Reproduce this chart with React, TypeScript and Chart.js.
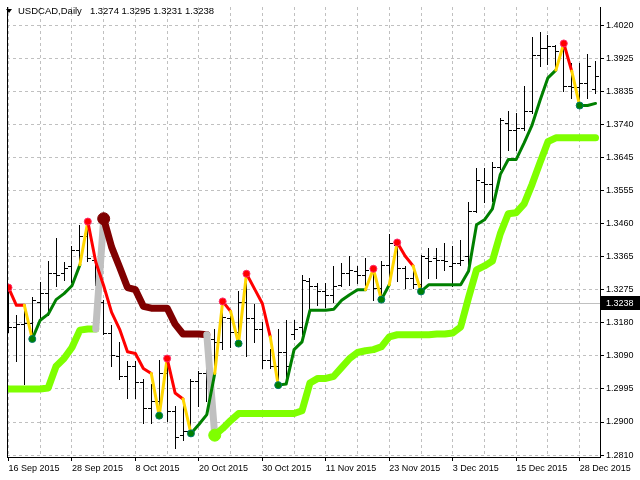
import React, { useEffect, useRef } from 'react';
import { Chart, registerables } from 'chart.js';

Chart.register(...registerables);

// ---------------- data ----------------
const symbolTitle = 'USDCAD,Daily';
const quoteOHLC = ['1.3274', '1.3295', '1.3231', '1.3238'];
const lastPrice = 1.3238;

const dateLabels = ['16 Sep 2015', '28 Sep 2015', '8 Oct 2015', '20 Oct 2015', '30 Oct 2015', '11 Nov 2015', '23 Nov 2015', '3 Dec 2015', '15 Dec 2015', '28 Dec 2015'];
const labelEvery = 8;
const gridEvery = 4;
const yTickLabels = ['1.2810', '1.2900', '1.2995', '1.3090', '1.3180', '1.3275', '1.3365', '1.3460', '1.3555', '1.3645', '1.3740', '1.3835', '1.3925', '1.4020'];

const opens = [
  1.3246, 1.3171, 1.3179, 1.3182, 1.3240, 1.3268, 1.3323, 1.3323, 1.3343, 1.3387,
  1.3426, 1.3360, 1.3240, 1.3154, 1.3088, 1.3032, 1.3060, 1.3015, 1.2943, 1.2963,
  1.3040, 1.2935, 1.2866, 1.2879, 1.3018, 1.3040, 1.3137, 1.3129, 1.3196, 1.3157,
  1.3240, 1.3196, 1.3165, 1.3079, 1.3060, 1.3101, 1.3151, 1.3171, 1.3301, 1.3287,
  1.3273, 1.3260, 1.3290, 1.3323, 1.3329, 1.3318, 1.3332, 1.3282, 1.3346, 1.3401,
  1.3337, 1.3310, 1.3293, 1.3365, 1.3365, 1.3360, 1.3343, 1.3351, 1.3371, 1.3498,
  1.3579, 1.3573, 1.3623, 1.3745, 1.3726, 1.3731, 1.3781, 1.3937, 1.3956, 1.3962,
  1.3948, 1.3851, 1.3848, 1.3859, 1.3842,
];
const highs = [
  1.3282, 1.3204, 1.3232, 1.3254, 1.3298, 1.3357, 1.3421, 1.3354, 1.3398, 1.3457,
  1.3468, 1.3371, 1.3248, 1.3176, 1.3129, 1.3074, 1.3074, 1.3024, 1.3010, 1.3079,
  1.3082, 1.2949, 1.2963, 1.3024, 1.3046, 1.3151, 1.3165, 1.3243, 1.3201, 1.3273,
  1.3321, 1.3235, 1.3185, 1.3110, 1.3165, 1.3190, 1.3190, 1.3318, 1.3310, 1.3296,
  1.3296, 1.3343, 1.3351, 1.3371, 1.3343, 1.3365, 1.3335, 1.3357, 1.3434, 1.3409,
  1.3343, 1.3337, 1.3373, 1.3393, 1.3393, 1.3407, 1.3398, 1.3415, 1.3523, 1.3620,
  1.3620, 1.3637, 1.3759, 1.3781, 1.3773, 1.3851, 1.3987, 1.4003, 1.3995, 1.3967,
  1.3970, 1.3915, 1.3915, 1.3940, 1.3920,
];
const lows = [
  1.3157, 1.3074, 1.3010, 1.3137, 1.3190, 1.3204, 1.3287, 1.3304, 1.3298, 1.3351,
  1.3357, 1.3290, 1.3151, 1.3060, 1.3024, 1.2971, 1.2971, 1.2899, 1.2899, 1.2921,
  1.2907, 1.2829, 1.2852, 1.2871, 1.2949, 1.2963, 1.3051, 1.3110, 1.3115, 1.3124,
  1.3088, 1.3129, 1.3054, 1.3054, 1.3007, 1.3018, 1.3137, 1.3151, 1.3221, 1.3232,
  1.3226, 1.3240, 1.3287, 1.3290, 1.3296, 1.3290, 1.3246, 1.3248, 1.3301, 1.3301,
  1.3282, 1.3282, 1.3271, 1.3310, 1.3310, 1.3332, 1.3287, 1.3346, 1.3332, 1.3495,
  1.3523, 1.3526, 1.3615, 1.3670, 1.3670, 1.3726, 1.3773, 1.3906, 1.3912, 1.3892,
  1.3837, 1.3817, 1.3795, 1.3815, 1.3829,
];
const closes = [
  1.3171, 1.3179, 1.3182, 1.3248, 1.3268, 1.3323, 1.3318, 1.3337, 1.3387, 1.3426,
  1.3365, 1.3307, 1.3154, 1.3093, 1.3032, 1.3060, 1.3015, 1.2943, 1.2963, 1.3040,
  1.2935, 1.2860, 1.2879, 1.3018, 1.3040, 1.3137, 1.3129, 1.3199, 1.3157, 1.3240,
  1.3196, 1.3165, 1.3079, 1.3060, 1.3101, 1.3060, 1.3165, 1.3304, 1.3287, 1.3273,
  1.3260, 1.3287, 1.3323, 1.3332, 1.3318, 1.3332, 1.3282, 1.3346, 1.3407, 1.3337,
  1.3310, 1.3293, 1.3371, 1.3357, 1.3360, 1.3357, 1.3351, 1.3360, 1.3498, 1.3584,
  1.3573, 1.3623, 1.3754, 1.3726, 1.3731, 1.3781, 1.3937, 1.3956, 1.3962, 1.3948,
  1.3851, 1.3848, 1.3859, 1.3906, 1.3878,
];

// fast trailing line (thin) and its per-segment state: d = down, t = turning, u = up
const fastLine = [
  1.3282, 1.3232, 1.3232, 1.3137, 1.3190, 1.3207, 1.3248, 1.3265, 1.3287, 1.3346,
  1.3468, 1.3354, 1.3287, 1.3212, 1.3165, 1.3101, 1.3096, 1.3054, 1.3040, 1.2921,
  1.3082, 1.2985, 1.2968, 1.2871, 1.2896, 1.2924, 1.3040, 1.3243, 1.3215, 1.3124,
  1.3321, 1.3279, 1.3237, 1.3143, 1.3007, 1.3010, 1.3107, 1.3129, 1.3218, 1.3218,
  1.3218, 1.3221, 1.3246, 1.3262, 1.3276, 1.3276, 1.3335, 1.3248, 1.3290, 1.3409,
  1.3371, 1.3343, 1.3271, 1.3290, 1.3290, 1.3290, 1.3290, 1.3290, 1.3329, 1.3459,
  1.3473, 1.3504, 1.3601, 1.3643, 1.3643, 1.3690, 1.3740, 1.3809, 1.3873, 1.3895,
  1.3970, 1.3892, 1.3795, 1.3795, 1.3801,
];
const fastState = [
  'd', 'd', 't', 'u', 'u', 'u', 'u', 'u', 'u', 't',
  'd', 'd', 'd', 'd', 'd', 'd', 'd', 'd', 't', 't',
  'd', 'd', 't', 'u', 'u', 'u', 't', 'd', 't', 't',
  'd', 'd', 'd', 't', 'u', 'u', 'u', 'u', 'u', 'u',
  'u', 'u', 'u', 'u', 'u', 't', 't', 'u', 't', 'd',
  'd', 't', 'u', 'u', 'u', 'u', 'u', 'u', 'u', 'u',
  'u', 'u', 'u', 'u', 'u', 'u', 'u', 'u', 'u', 't',
  'd', 't', 'u', 'u',
];
const fastPeaks = [0, 10, 20, 27, 30, 46, 49, 70];
const fastTroughs = [3, 19, 23, 29, 34, 47, 52, 72];

// slow trailing line (thick) and its per-segment state
const slowLine = [
  1.2996, 1.2996, 1.2996, 1.2996, 1.2996, 1.2999, 1.3060, 1.3082, 1.3113, 1.3162,
  1.3165, 1.3165, 1.3476, 1.3396, 1.3340, 1.3282, 1.3276, 1.3229, 1.3224, 1.3224,
  1.3224, 1.3179, 1.3151, 1.3151, 1.3151, 1.3149, 1.2866, 1.2885, 1.2907, 1.2927,
  1.2927, 1.2927, 1.2927, 1.2927, 1.2927, 1.2927, 1.2927, 1.2935, 1.3013, 1.3026,
  1.3026, 1.3032, 1.3057, 1.3082, 1.3099, 1.3104, 1.3107, 1.3115, 1.3143, 1.3149,
  1.3149, 1.3149, 1.3149, 1.3149, 1.3151, 1.3151, 1.3154, 1.3171, 1.3254, 1.3332,
  1.3343, 1.3357, 1.3434, 1.3490, 1.3493, 1.3518, 1.3573, 1.3634, 1.3693, 1.3704,
  1.3704, 1.3704, 1.3704, 1.3704, 1.3704,
];
const slowState = [
  'u', 'u', 'u', 'u', 'u', 'u', 'u', 'u', 'u', 'u',
  'u', 't', 'd', 'd', 'd', 'd', 'd', 'd', 'd', 'd',
  'd', 'd', 'd', 'd', 'd', 't', 'u', 'u', 'u', 'u',
  'u', 'u', 'u', 'u', 'u', 'u', 'u', 'u', 'u', 'u',
  'u', 'u', 'u', 'u', 'u', 'u', 'u', 'u', 'u', 'u',
  'u', 'u', 'u', 'u', 'u', 'u', 'u', 'u', 'u', 'u',
  'u', 'u', 'u', 'u', 'u', 'u', 'u', 'u', 'u', 'u',
  'u', 'u', 'u', 'u',
];
const slowFlips = [12, 26];

// ---------------- styles ----------------
const FAST_COLORS: Record<string, string> = { d: '#FF0000', t: '#FFD700', u: '#008000' };
const SLOW_COLORS: Record<string, string> = { d: '#800000', t: '#C0C0C0', u: '#7FFF00' };
const GRID = '#C0C0C0';
const FONT = "'Liberation Sans', Arial, sans-serif";

const Y_MIN = 1.280445;
const Y_MAX = 1.407273;
const X_MIN = -0.1875;
const X_MAX = 74.5625;

const ohlcPlugin = {
  id: 'ohlcBars',
  beforeDatasetsDraw(chart: any) {
    const { ctx, chartArea, scales } = chart;
    const xs = scales.x;
    const ys = scales.y;
    ctx.save();
    ctx.beginPath();
    ctx.rect(chartArea.left, chartArea.top, chartArea.right - chartArea.left, chartArea.bottom - chartArea.top);
    ctx.clip();
    // last price line
    const py = Math.floor(ys.getPixelForValue(lastPrice));
    ctx.fillStyle = GRID;
    ctx.fillRect(chartArea.left, py, chartArea.right - chartArea.left, 1);
    // OHLC bars
    ctx.fillStyle = '#000';
    for (let i = 0; i < opens.length; i++) {
      const px = Math.floor(xs.getPixelForValue(i));
      const yh = Math.round(ys.getPixelForValue(highs[i]));
      const yl = Math.round(ys.getPixelForValue(lows[i]));
      const yo = Math.round(ys.getPixelForValue(opens[i]));
      const yc = Math.round(ys.getPixelForValue(closes[i]));
      ctx.fillRect(px, yh, 1, yl - yh + 1);
      ctx.fillRect(px - 3, yo, 3, 1);
      ctx.fillRect(px + 1, yc, 3, 1);
    }
    ctx.restore();
  },
  afterDraw(chart: any) {
    const { ctx, chartArea, scales } = chart;
    const ys = scales.y;
    ctx.save();
    // left frame line
    ctx.fillStyle = '#000';
    ctx.fillRect(chartArea.left, chartArea.top, 1, chartArea.bottom - chartArea.top + 1);
    // last price label
    const py = Math.floor(ys.getPixelForValue(lastPrice));
    ctx.fillStyle = '#000';
    ctx.fillRect(chartArea.right + 1, py - 7, 640 - chartArea.right - 1, 14);
    ctx.fillStyle = '#FFF';
    ctx.font = `9px ${FONT}`;
    ctx.textBaseline = 'middle';
    ctx.textAlign = 'left';
    ctx.fillText(lastPrice.toFixed(4), chartArea.right + 6, py + 0.5);
    ctx.restore();
  },
};

export default function App() {
  const ref = useRef<HTMLCanvasElement | null>(null);

  useEffect(() => {
    if (!ref.current) return;
    const yLo = parseFloat(yTickLabels[0]);
    const yHi = parseFloat(yTickLabels[yTickLabels.length - 1]);
    const yTicks = yTickLabels.map((_, k) => yLo + (k * (yHi - yLo)) / (yTickLabels.length - 1));
    const xTicks: number[] = [];
    for (let v = 0; v <= (dateLabels.length - 1) * labelEvery; v += gridEvery) xTicks.push(v);

    const chart = new Chart(ref.current, {
      type: 'line',
      data: {
        datasets: [
          {
            type: 'scatter',
            data: fastPeaks.map((i) => ({ x: i, y: fastLine[i] })),
            pointRadius: 3.5,
            pointBackgroundColor: '#FF0000',
            pointBorderColor: '#FF2A6A',
            pointBorderWidth: 1,
            order: 0,
          } as any,
          {
            type: 'scatter',
            data: fastTroughs.map((i) => ({ x: i, y: fastLine[i] })),
            pointRadius: 3.5,
            pointBackgroundColor: '#008000',
            pointBorderColor: '#007A6A',
            pointBorderWidth: 1,
            order: 0,
          } as any,
          {
            type: 'line',
            data: fastLine.map((v, i) => ({ x: i, y: v })),
            borderWidth: 3,
            borderColor: FAST_COLORS.u,
            pointRadius: 0,
            tension: 0,
            fill: false,
            borderCapStyle: 'round',
            borderJoinStyle: 'round',
            segment: { borderColor: (c: any) => FAST_COLORS[fastState[c.p0DataIndex]] },
            order: 1,
          } as any,
          {
            type: 'scatter',
            data: slowFlips.map((i) => ({ x: i, y: slowLine[i] })),
            pointRadius: 6,
            pointBackgroundColor: slowFlips.map((i) => SLOW_COLORS[slowState[i]]),
            pointBorderColor: slowFlips.map((i) => SLOW_COLORS[slowState[i]]),
            pointBorderWidth: 1,
            order: 2,
          } as any,
          {
            type: 'line',
            data: slowLine.map((v, i) => ({ x: i, y: v })),
            borderWidth: 7,
            borderColor: SLOW_COLORS.u,
            pointRadius: 0,
            tension: 0,
            fill: false,
            borderCapStyle: 'round',
            borderJoinStyle: 'round',
            segment: { borderColor: (c: any) => SLOW_COLORS[slowState[c.p0DataIndex]] },
            order: 3,
          } as any,
        ],
      },
      options: {
        responsive: false,
        animation: false,
        events: [],
        layout: { padding: { left: 2, top: 0, right: 0, bottom: 0 } },
        plugins: { legend: { display: false }, tooltip: { enabled: false }, title: { display: false } },
        scales: {
          x: {
            type: 'linear',
            position: 'bottom',
            min: X_MIN,
            max: X_MAX,
            afterBuildTicks: (s: any) => {
              s.ticks = xTicks.map((v) => ({ value: v }));
            },
            afterFit: (s: any) => {
              s.height = 23;
              s.paddingLeft = 0;
              s.paddingRight = 0;
            },
            grid: {
              color: GRID,
              lineWidth: 1,
              drawTicks: true,
              tickLength: 4,
              tickColor: (c: any) => (c.tick && c.tick.value % labelEvery === 0 ? '#000' : 'rgba(0,0,0,0)'),
            },
            border: { display: true, color: '#000', width: 1, dash: [3, 3] },
            ticks: {
              autoSkip: false,
              maxRotation: 0,
              minRotation: 0,
              align: 'start',
              padding: 2,
              color: '#000',
              font: { family: FONT, size: 9 },
              callback: (v: any) => (Number(v) % labelEvery === 0 ? dateLabels[Number(v) / labelEvery] : ''),
            },
          },
          y: {
            type: 'linear',
            position: 'right',
            min: Y_MIN,
            max: Y_MAX,
            afterBuildTicks: (s: any) => {
              s.ticks = yTicks.map((v) => ({ value: v }));
            },
            afterFit: (s: any) => {
              s.width = 40;
              s.paddingTop = 0;
              s.paddingBottom = 0;
            },
            grid: { color: GRID, lineWidth: 1, drawTicks: true, tickLength: 4, tickColor: '#000' },
            border: { display: true, color: '#000', width: 1, dash: [3, 3] },
            ticks: {
              autoSkip: false,
              padding: 2,
              color: '#000',
              font: { family: FONT, size: 9 },
              callback: (_v: any, i: number) => yTickLabels[i],
            },
          },
        },
      } as any,
      plugins: [ohlcPlugin],
    });
    return () => chart.destroy();
  }, []);

  return (
    <div style={{ position: 'fixed', left: 0, top: 0, width: 640, height: 480, background: '#fff', overflow: 'hidden' }}>
      <canvas ref={ref} width={640} height={480} style={{ display: 'block', width: 640, height: 480 }} />
      <div
        style={{
          position: 'absolute',
          left: 6,
          top: 9,
          width: 0,
          height: 0,
          borderLeft: '3.5px solid transparent',
          borderRight: '3.5px solid transparent',
          borderTop: '4px solid #000',
        }}
      />
      <div
        style={{
          position: 'absolute',
          left: 18,
          top: 5,
          font: `9.5px ${FONT}`,
          lineHeight: '11px',
          color: '#000',
          whiteSpace: 'pre',
        }}
      >
        <span>{symbolTitle}</span>
        <span style={{ marginLeft: 8 }}>{quoteOHLC.join(' ')}</span>
      </div>
    </div>
  );
}
